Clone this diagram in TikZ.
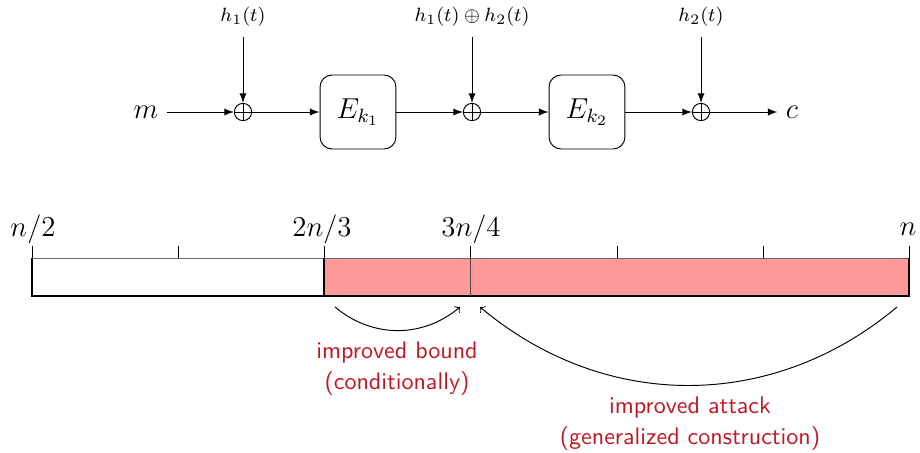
\documentclass[tikz,border=0pt]{standalone}
\usetikzlibrary{arrows}
\definecolor{barpink}{rgb}{1,0.6,0.6}
\definecolor{notered}{RGB}{190,25,35}
\begin{document}
\begin{tikzpicture}[x=0.4163pt,y=-0.4163pt,
  xorop/.style={circle,draw,inner sep=0pt,minimum size=7.2pt},
  cipher/.style={draw,rounded corners=5pt,minimum width=31.6pt,minimum height=30.8pt,inner sep=0pt,font=\large},
  keylabel/.style={font=\footnotesize,inner sep=1pt},
  flow/.style={-latex,line width=0.4pt},
  tickmark/.style={line width=0.4pt},
  note/.style={font=\sffamily,text=notered,align=center},
  ptlabel/.style={font=\large,inner sep=1pt}]
\useasboundingbox (0,0) rectangle (920,452);

% ---- two-key cascade with whitening ----
\node[font=\large] (m) at (146,112) {$m$};
\node[xorop] (x1) at (243,112) {};
\node[cipher] (e1) at (358,112) {$E_{k_1}$};
\node[xorop] (x2) at (472,112) {};
\node[cipher] (e2) at (587,112) {$E_{k_2}$};
\node[xorop] (x3) at (701,112) {};
\node[font=\large] (c) at (792,112) {$c$};
\node[keylabel] (h1) at (243,17) {$h_1(t)$};
\node[keylabel] (h12) at (472,17) {$h_1(t)\oplus h_2(t)$};
\node[keylabel] (h2) at (701,17) {$h_2(t)$};
\foreach \k/\xx in {h1/x1,h12/x2,h2/x3}
  \draw[flow] (\k.south) ++(0,-3pt) -- (\xx.north);
\foreach \xx in {x1,x2,x3} {
  \draw (\xx.north) -- (\xx.south);
  \draw (\xx.west) -- (\xx.east);
}
\draw[flow] (m) -- (x1);
\draw[flow] (x1) -- (e1);
\draw[flow] (e1) -- (x2);
\draw[flow] (x2) -- (e2);
\draw[flow] (e2) -- (x3);
\draw[flow] (x3) -- (c);

% ---- security range bar from n/2 to n ----
\coordinate (b0) at (32,258);
\coordinate (b1) at (324,258);
\coordinate (b2) at (470,258);
\coordinate (b3) at (909,258);
\fill[barpink] (324,258) rectangle (909,296);
\draw[line width=0.3pt,black!60] (b0) -- (b3);
\draw[line width=0.45pt] (b0) -- (32,296) -- (909,296) -- (b3);
\draw[line width=0.45pt] (b1) -- (324,296);
\draw[line width=0.35pt,black!70] (b2) -- (470,296);
\foreach \xx in {32,178,324,470,617,763,909}
  \draw[tickmark] (\xx,246) -- (\xx,258);
\node[ptlabel] (l0) at (33,229) {$n/2$};
\node[ptlabel] (l1) at (322,229) {$2n/3$};
\node[ptlabel] (l2) at (471,229) {$3n/4$};
\node[ptlabel] (l3) at (908,229) {$n$};

% ---- improvements ----
\coordinate (a0) at (335,307);
\coordinate (a1) at (460,307);
\coordinate (a2) at (897,307);
\coordinate (a3) at (480,307);
\draw[->,line width=0.4pt] (a0) to[out=-40,in=-140] (a1);
\draw[->,line width=0.4pt] (a2) to[out=-140,in=-40] (a3);
\node[note] (nb) at (397,369) {improved bound\\[1pt](conditionally)};
\node[note] (na) at (690,424) {improved attack\\[1pt](generalized construction)};
\end{tikzpicture}
\end{document}
